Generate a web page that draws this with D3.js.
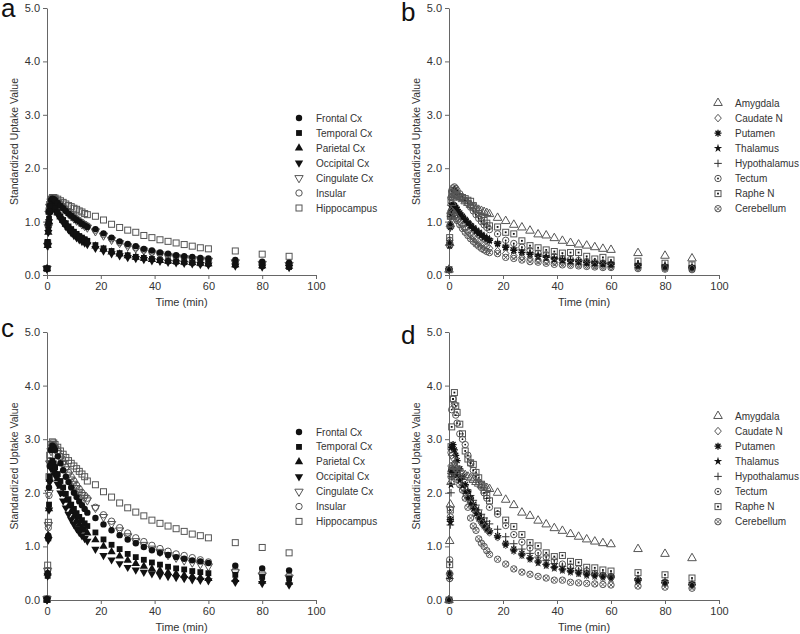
<!DOCTYPE html>
<html>
<head>
<meta charset="utf-8">
<script src="https://cdn.jsdelivr.net/npm/d3@7"></script>
<style>
  body { margin: 0; background: #fff; }
  svg { font-family: "Liberation Sans", Arial, sans-serif; }
  .axis path, .axis line { stroke: #666; }
  .axis text { fill: #333; font-size: 11px; }
</style>
</head>
<body>
<script>
// frame mid-times (min)
var times = [0,0.25,0.5,0.75,1,1.5,2,2.5,3,4,5,6,7,8,9,10,11,12,13,14,15,
             18,21,24,27,30,33,36,39,42,45,48,51,54,57,60,70,80,90];

var cortexNames = ["Frontal Cx","Temporal Cx","Parietal Cx","Occipital Cx","Cingulate Cx","Insular","Hippocampus"];
var subNames = ["Amygdala","Caudate N","Putamen","Thalamus","Hypothalamus","Tectum","Raphe N","Cerebellum"];
var cortexMarks = ["circleFilled","squareFilled","triUpFilled","triDownFilled","triDownOpen","circleOpen","squareOpen"];
var subMarks = ["triUpOpen","diamondOpen","asterisk","star","plus","circleDot","squareDot","circleX"];

var yTicks = [0,1,2,3,4,5];
var xTicks = [0,20,40,60,80,100];

// panel a
var aFrontal = [0.12,0.6,0.95,1.2,1.3,1.4,1.43,1.42,1.4,1.35,1.3,1.25,1.2,1.15,1.11,1.07,1.03,1.0,0.96,0.93,0.90, 0.86,0.78,0.70,0.63,0.58,0.54,0.49,0.46,0.42,0.40,0.37,0.35,0.34,0.32,0.31, 0.28,0.25,0.23];
var aTemporal = [0.12,0.62,0.85,1.05,1.2,1.28,1.3,1.28,1.25,1.18,1.1,1.03,0.97,0.91,0.86,0.81,0.77,0.73,0.70,0.67,0.64, 0.56,0.50,0.45,0.41,0.37,0.34,0.32,0.30,0.28,0.26,0.25,0.24,0.23,0.22,0.21, 0.19,0.17,0.15];
var aParietal = [0.12,0.55,0.8,1.0,1.18,1.27,1.3,1.28,1.24,1.16,1.09,1.02,0.95,0.89,0.84,0.79,0.75,0.71,0.68,0.65,0.62, 0.54,0.48,0.43,0.39,0.36,0.33,0.31,0.29,0.27,0.26,0.25,0.24,0.23,0.22,0.21, 0.19,0.17,0.16];
var aOccipital = [0.12,0.55,0.8,1.0,1.15,1.25,1.27,1.25,1.21,1.13,1.05,0.98,0.91,0.85,0.79,0.74,0.70,0.66,0.63,0.60,0.57, 0.50,0.45,0.40,0.36,0.33,0.31,0.29,0.27,0.26,0.24,0.23,0.22,0.21,0.20,0.19, 0.17,0.15,0.14];
var aCingulate = [0.12,0.55,0.9,1.15,1.28,1.38,1.42,1.42,1.40,1.35,1.30,1.25,1.20,1.15,1.10,1.06,1.02,0.99,0.95,0.92,0.89, 0.82,0.74,0.66,0.60,0.54,0.50,0.46,0.42,0.39,0.36,0.34,0.32,0.30,0.29,0.27, 0.24,0.21,0.19];
var aInsular = [0.12,0.58,0.92,1.18,1.3,1.4,1.44,1.44,1.42,1.37,1.32,1.27,1.22,1.18,1.13,1.09,1.05,1.02,0.98,0.95,0.92, 0.84,0.76,0.68,0.61,0.56,0.51,0.47,0.43,0.40,0.37,0.35,0.33,0.31,0.30,0.28, 0.25,0.22,0.20];
var aHippocampus = [0.12,0.6,0.95,1.2,1.32,1.42,1.45,1.45,1.44,1.42,1.39,1.36,1.33,1.30,1.28,1.25,1.23,1.20,1.18,1.15,1.13, 1.10,1.03,0.95,0.89,0.84,0.80,0.74,0.70,0.66,0.63,0.60,0.57,0.54,0.51,0.49, 0.45,0.39,0.35];

// panel b
var bAmygdala = [0.1,0.6,0.95,1.2,1.35,1.45,1.5,1.5,1.48,1.45,1.42,1.38,1.35,1.31,1.28,1.25,1.22,1.2,1.18,1.16,1.14, 1.07,1.01,0.94,0.89,0.83,0.76,0.74,0.69,0.64,0.60,0.57,0.55,0.52,0.49,0.47, 0.41,0.36,0.31];
var bCaudate = [0.1,0.6,0.95,1.15,1.2,1.18,1.14,1.1,1.06,0.99,0.93,0.87,0.81,0.76,0.71,0.67,0.63,0.59,0.56,0.53,0.50, 0.45,0.40,0.36,0.33,0.30,0.28,0.26,0.24,0.23,0.21,0.20,0.19,0.18,0.17,0.16, 0.14,0.13,0.12];
var bPutamen = [0.1,0.6,0.95,1.2,1.3,1.32,1.3,1.27,1.23,1.16,1.1,1.04,0.98,0.93,0.88,0.83,0.79,0.75,0.71,0.68,0.65, 0.59,0.52,0.46,0.42,0.39,0.35,0.33,0.30,0.28,0.26,0.25,0.23,0.22,0.21,0.20, 0.18,0.15,0.14];
var bThalamus = [0.1,0.55,0.9,1.15,1.28,1.3,1.28,1.25,1.21,1.14,1.08,1.02,0.96,0.91,0.86,0.82,0.77,0.74,0.70,0.67,0.64, 0.58,0.51,0.45,0.41,0.37,0.34,0.32,0.29,0.27,0.25,0.24,0.22,0.21,0.20,0.19, 0.17,0.15,0.13];
var bHypothalamus = [0.1,0.55,0.88,1.1,1.22,1.27,1.27,1.25,1.22,1.16,1.1,1.05,1.0,0.95,0.9,0.86,0.82,0.78,0.74,0.71,0.68, 0.62,0.56,0.51,0.47,0.42,0.39,0.36,0.33,0.31,0.29,0.28,0.26,0.25,0.24,0.23, 0.21,0.19,0.17];
var bTectum = [0.1,0.65,1.1,1.45,1.58,1.63,1.65,1.62,1.58,1.52,1.46,1.4,1.34,1.27,1.2,1.13,1.06,1.0,0.94,0.89,0.85, 0.77,0.65,0.59,0.52,0.46,0.41,0.38,0.35,0.31,0.29,0.27,0.25,0.23,0.22,0.20, 0.17,0.15,0.13];
var bRaphe = [0.1,0.7,1.1,1.4,1.52,1.55,1.55,1.52,1.5,1.47,1.45,1.43,1.4,1.38,1.3,1.22,1.15,1.08,1.02,0.97,0.92, 0.90,0.80,0.77,0.64,0.55,0.51,0.47,0.44,0.41,0.42,0.42,0.35,0.30,0.33,0.28, 0.26,0.22,0.19];
var bCerebellum = [0.1,0.55,0.9,1.12,1.18,1.15,1.1,1.06,1.02,0.94,0.87,0.8,0.74,0.68,0.63,0.58,0.54,0.5,0.47,0.44,0.42, 0.40,0.33,0.31,0.28,0.25,0.24,0.22,0.20,0.19,0.18,0.17,0.16,0.15,0.14,0.14, 0.12,0.11,0.10];

// panel c
var cFrontal = [0.02,0.5,1.2,2.1,2.5,2.8,2.88,2.85,2.8,2.68,2.55,2.42,2.3,2.2,2.1,2.0,1.92,1.84,1.77,1.70,1.63, 1.53,1.41,1.30,1.21,1.13,1.06,0.99,0.93,0.88,0.84,0.80,0.77,0.74,0.72,0.69, 0.64,0.59,0.55];
var cTemporal = [0.0,0.45,1.15,1.78,2.3,2.55,2.6,2.55,2.48,2.35,2.22,2.1,1.98,1.88,1.78,1.7,1.62,1.55,1.49,1.43,1.38, 1.26,1.13,1.03,0.95,0.86,0.80,0.75,0.70,0.66,0.62,0.59,0.57,0.54,0.52,0.50, 0.47,0.43,0.40];
var cParietal = [0.0,0.5,1.2,1.7,2.25,2.5,2.52,2.47,2.4,2.26,2.12,1.98,1.86,1.75,1.65,1.56,1.48,1.41,1.35,1.30,1.25, 1.12,1.00,0.90,0.82,0.74,0.68,0.63,0.58,0.55,0.51,0.49,0.46,0.44,0.42,0.40, 0.38,0.35,0.33];
var cOccipital = [0.0,0.45,1.12,1.68,2.2,2.45,2.48,2.42,2.33,2.16,2.0,1.85,1.72,1.6,1.5,1.41,1.33,1.26,1.2,1.15,1.10, 0.95,0.83,0.75,0.68,0.61,0.56,0.52,0.49,0.46,0.44,0.42,0.40,0.38,0.37,0.36, 0.33,0.31,0.28];
var cCingulate = [0.02,0.55,1.4,2.0,2.55,2.78,2.85,2.85,2.82,2.74,2.64,2.54,2.44,2.34,2.25,2.17,2.09,2.02,1.96,1.91,1.86, 1.72,1.55,1.42,1.30,1.19,1.10,1.03,0.96,0.90,0.84,0.79,0.74,0.70,0.67,0.63, 0.52,0.46,0.42];
var cInsular = [0.02,0.55,1.35,1.95,2.6,2.8,2.88,2.88,2.85,2.78,2.68,2.58,2.48,2.38,2.3,2.22,2.14,2.07,2.0,1.95,1.90, 1.73,1.59,1.47,1.35,1.25,1.16,1.09,1.02,0.96,0.91,0.86,0.83,0.79,0.75,0.71, 0.55,0.50,0.45];
var cHippocampus = [0.02,0.65,1.45,2.3,2.7,2.9,2.95,2.93,2.9,2.85,2.78,2.72,2.66,2.6,2.55,2.5,2.45,2.4,2.35,2.3,2.22, 2.15,2.02,1.92,1.81,1.72,1.64,1.57,1.49,1.43,1.38,1.33,1.28,1.23,1.20,1.16, 1.07,0.98,0.88];

// panel d
var dAmygdala = [0.0,1.1,1.78,2.2,2.4,2.5,2.5,2.48,2.45,2.4,2.36,2.33,2.3,2.27,2.24,2.2,2.17,2.14,2.12,2.09,2.07, 2.0,1.87,1.77,1.63,1.57,1.48,1.41,1.34,1.29,1.23,1.18,1.13,1.09,1.06,1.04, 0.95,0.86,0.78];
var dCaudate = [0.0,0.5,1.7,2.5,2.7,2.65,2.55,2.45,2.35,2.22,2.1,2.0,1.9,1.8,1.7,1.6,1.52,1.44,1.37,1.31,1.26, 1.17,1.03,0.92,0.84,0.77,0.71,0.66,0.61,0.57,0.53,0.50,0.47,0.45,0.43,0.41, 0.36,0.31,0.27];
var dPutamen = [0.0,0.5,1.5,2.4,2.85,2.9,2.8,2.7,2.6,2.45,2.3,2.15,2.02,1.9,1.78,1.68,1.58,1.5,1.42,1.35,1.29, 1.2,1.06,0.95,0.87,0.79,0.73,0.67,0.62,0.58,0.55,0.52,0.49,0.47,0.45,0.43, 0.37,0.33,0.29];
var dThalamus = [0.0,0.45,1.45,2.15,2.4,2.45,2.42,2.38,2.33,2.23,2.13,2.02,1.9,1.8,1.7,1.61,1.52,1.45,1.38,1.32,1.27, 1.18,1.03,0.92,0.83,0.76,0.69,0.64,0.59,0.55,0.52,0.49,0.46,0.44,0.42,0.40, 0.35,0.31,0.27];
var dHypothalamus = [0.0,0.4,1.4,2.0,2.3,2.4,2.42,2.4,2.38,2.32,2.25,2.15,2.05,1.95,1.86,1.77,1.68,1.6,1.53,1.47,1.42, 1.32,1.18,1.05,0.95,0.87,0.80,0.74,0.68,0.63,0.59,0.55,0.52,0.49,0.47,0.45, 0.40,0.36,0.32];
var dTectum = [0.0,0.75,1.55,2.75,3.55,3.75,3.65,3.45,3.3,3.1,3.0,2.9,2.7,2.55,2.42,2.3,2.2,2.1,2.0,1.9,1.73, 1.60,1.39,1.22,1.08,0.97,0.88,0.80,0.73,0.67,0.62,0.58,0.54,0.50,0.46,0.44, 0.38,0.33,0.29];
var dRaphe = [0.0,0.66,1.68,2.86,3.23,3.75,3.87,3.62,3.5,3.28,3.1,2.78,2.63,2.56,2.53,2.38,2.28,2.16,2.05,1.95,1.85, 1.66,1.49,1.37,1.22,1.07,1.01,0.88,0.81,0.83,0.72,0.70,0.61,0.60,0.56,0.54, 0.51,0.47,0.41];
var dCerebellum = [0.0,0.4,1.5,2.3,2.45,2.4,2.35,2.3,2.25,2.15,2.05,1.9,1.73,1.53,1.38,1.3,1.14,1.06,1.0,0.92,0.85, 0.76,0.67,0.58,0.52,0.48,0.44,0.41,0.37,0.37,0.33,0.32,0.31,0.30,0.29,0.28, 0.26,0.24,0.22];

// panel layout
var panels = [
  {letter: "a", lx: 1, ly: 17, left: 47, top: 8, w: 269, h: 267, names: cortexNames, marks: cortexMarks,
   series: [aFrontal,aTemporal,aParietal,aOccipital,aCingulate,aInsular,aHippocampus], legX: 252, legY: 110, legDy: 15},
  {letter: "b", lx: 401, ly: 21, left: 449, top: 8, w: 270, h: 267, names: subNames, marks: subMarks,
   series: [bAmygdala,bCaudate,bPutamen,bThalamus,bHypothalamus,bTectum,bRaphe,bCerebellum], legX: 269, legY: 95, legDy: 15.1},
  {letter: "c", lx: 1, ly: 337, left: 47, top: 332, w: 269, h: 268, names: cortexNames, marks: cortexMarks,
   series: [cFrontal,cTemporal,cParietal,cOccipital,cCingulate,cInsular,cHippocampus], legX: 252, legY: 100, legDy: 14.9},
  {letter: "d", lx: 401, ly: 344, left: 449, top: 332, w: 270, h: 268, names: subNames, marks: subMarks,
   series: [dAmygdala,dCaudate,dPutamen,dThalamus,dHypothalamus,dTectum,dRaphe,dCerebellum], legX: 269, legY: 84, legDy: 15.1}
];

var svg = d3.select("body").append("svg")
    .attr("width", 800)
    .attr("height", 634);

var black = "#111", grey = "#555";

// draw one marker of a given kind at the origin of g
function drawMark(g, kind) {
  var sym = function(type, size) { return d3.symbol().type(type).size(size)(); };
  if (kind === "circleFilled") {
    g.append("circle").attr("r", 3.2).attr("fill", black);
  } else if (kind === "squareFilled") {
    g.append("path").attr("d", sym(d3.symbolSquare, 34)).attr("fill", black);
  } else if (kind === "triUpFilled") {
    g.append("path").attr("d", sym(d3.symbolTriangle, 30)).attr("fill", black);
  } else if (kind === "triDownFilled") {
    g.append("path").attr("d", sym(d3.symbolTriangle, 30)).attr("transform", "rotate(180)").attr("fill", black);
  } else if (kind === "triDownOpen") {
    g.append("path").attr("d", sym(d3.symbolTriangle, 30)).attr("transform", "rotate(180)")
      .attr("fill", "none").attr("stroke", grey).attr("stroke-width", 1);
  } else if (kind === "triUpOpen") {
    g.append("path").attr("d", sym(d3.symbolTriangle, 32))
      .attr("fill", "none").attr("stroke", grey).attr("stroke-width", 1);
  } else if (kind === "circleOpen") {
    g.append("circle").attr("r", 3.2).attr("fill", "none").attr("stroke", grey).attr("stroke-width", 1);
  } else if (kind === "squareOpen") {
    g.append("rect").attr("x", -3).attr("y", -3).attr("width", 6).attr("height", 6)
      .attr("fill", "none").attr("stroke", grey).attr("stroke-width", 1);
  } else if (kind === "diamondOpen") {
    g.append("path").attr("d", "M0,-3.8L3.3,0L0,3.8L-3.3,0Z")
      .attr("fill", "none").attr("stroke", grey).attr("stroke-width", 1);
  } else if (kind === "asterisk") {
    g.append("path").attr("d", "M-3.5,0H3.5M0,-3.5V3.5M-2.5,-2.5L2.5,2.5M-2.5,2.5L2.5,-2.5")
      .attr("stroke", black).attr("stroke-width", 1.3);
  } else if (kind === "star") {
    g.append("path").attr("d", sym(d3.symbolStar, 22)).attr("fill", black);
  } else if (kind === "plus") {
    g.append("path").attr("d", "M-3.8,0H3.8M0,-3.8V3.8").attr("stroke", "#333").attr("stroke-width", 1);
  } else if (kind === "circleDot") {
    g.append("circle").attr("r", 3.2).attr("fill", "none").attr("stroke", grey).attr("stroke-width", 1);
    g.append("circle").attr("r", 0.9).attr("fill", black);
  } else if (kind === "squareDot") {
    g.append("rect").attr("x", -3).attr("y", -3).attr("width", 6).attr("height", 6)
      .attr("fill", "none").attr("stroke", grey).attr("stroke-width", 1);
    g.append("rect").attr("x", -0.9).attr("y", -0.9).attr("width", 1.8).attr("height", 1.8).attr("fill", black);
  } else if (kind === "circleX") {
    g.append("circle").attr("r", 3.2).attr("fill", "none").attr("stroke", grey).attr("stroke-width", 1);
    g.append("path").attr("d", "M-2.2,-2.2L2.2,2.2M-2.2,2.2L2.2,-2.2").attr("stroke", grey).attr("stroke-width", 0.9);
  }
}

panels.forEach(function(p) {
  var x = d3.scaleLinear().domain([0, 100]).range([0, p.w]);
  var y = d3.scaleLinear().domain([0, 5]).range([p.h, 0]);

  svg.append("text")
    .attr("x", p.lx).attr("y", p.ly)
    .attr("font-size", 26)
    .attr("fill", "#111")
    .text(p.letter);

  var g = svg.append("g").attr("transform", "translate(" + p.left + "," + p.top + ")");

  // axes
  g.append("g").attr("class", "axis")
    .call(d3.axisLeft(y).tickValues(yTicks).tickFormat(d3.format(".1f")).tickSize(4).tickSizeOuter(0).tickPadding(3));
  g.append("g").attr("class", "axis")
    .attr("transform", "translate(0," + p.h + ")")
    .call(d3.axisBottom(x).tickValues(xTicks).tickSize(4).tickSizeOuter(0).tickPadding(3));

  g.append("text")
    .attr("x", p.w / 2).attr("y", p.h + 31)
    .attr("text-anchor", "middle")
    .attr("font-size", 11).attr("fill", "#333")
    .text("Time (min)");

  g.append("text")
    .attr("transform", "translate(" + (-29) + "," + (p.h / 2) + ") rotate(-90)")
    .attr("text-anchor", "middle")
    .attr("font-size", 10.5).attr("fill", "#333")
    .text("Standardized Uptake Value");

  // data points, last series drawn first so the first sits on top
  for (var s = p.series.length - 1; s >= 0; s--) {
    var vals = p.series[s];
    var kind = p.marks[s];
    g.append("g").selectAll("g")
      .data(times.map(function(t, i) { return {t: t, v: vals[i]}; }))
      .enter().append("g")
      .attr("transform", function(d) { return "translate(" + x(d.t) + "," + y(d.v) + ")"; })
      .each(function() { drawMark(d3.select(this), kind); });
  }

  // legend
  var leg = g.append("g").attr("transform", "translate(" + p.legX + "," + p.legY + ")");
  p.names.forEach(function(name, i) {
    var row = leg.append("g").attr("transform", "translate(0," + (i * p.legDy) + ")");
    drawMark(row.append("g"), p.marks[i]);
    row.append("text")
      .attr("x", 17).attr("y", 0).attr("dy", "0.35em")
      .attr("font-size", 10).attr("fill", "#333")
      .text(name);
  });
});
</script>
</body>
</html>
